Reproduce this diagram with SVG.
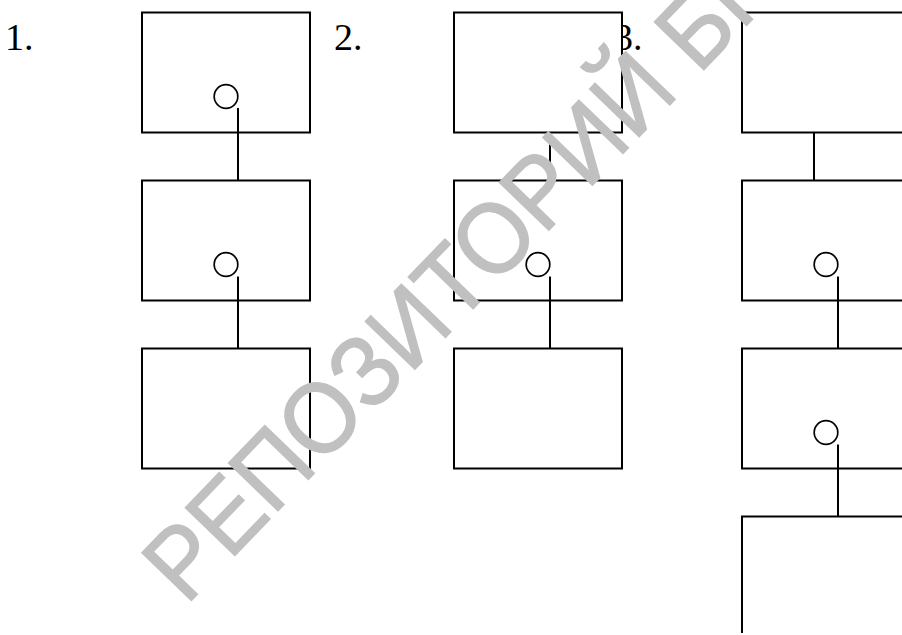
<svg xmlns="http://www.w3.org/2000/svg" width="902" height="635" viewBox="0 0 902 635">
  <style>
    .lbl { font-family: "Liberation Serif", "Times New Roman", serif; font-size: 38px; fill: #000; }
    .box { fill: #fff; stroke: #000; stroke-width: 2; }
    .pin { fill: #fff; stroke: #000; stroke-width: 1.7; }
    .con { stroke: #000; stroke-width: 2; fill: none; }
    .wm { font-family: "Liberation Sans", Arial, sans-serif; font-size: 100px; fill: #c0c0c0; stroke: #c0c0c0; stroke-width: 1.4; stroke-linejoin: miter; }
  </style>
  <rect width="902" height="635" fill="#fff"/>

  <g id="labels">
    <text class="lbl" x="5" y="50">1.</text>
    <text class="lbl" x="334" y="50">2.</text>
    <text class="lbl" x="614" y="50">3.</text>
  </g>

  <!-- Column 1 -->
  <g id="c1b1"><rect class="box" x="142" y="12.5" width="168" height="120"/><circle class="pin" cx="226" cy="96.5" r="11.8"/></g>
  <g id="c1b2"><rect class="box" x="142" y="180.5" width="168" height="120"/><circle class="pin" cx="226" cy="264.5" r="11.8"/></g>
  <g id="c1b3"><rect class="box" x="142" y="348.5" width="168" height="120"/></g>

  <!-- Column 2 -->
  <g id="c2b1"><rect class="box" x="454" y="12.5" width="168" height="120"/></g>
  <g id="c2b2"><rect class="box" x="454" y="180.5" width="168" height="120"/><circle class="pin" cx="538" cy="264.5" r="11.8"/></g>
  <g id="c2b3"><rect class="box" x="454" y="348.5" width="168" height="120"/></g>

  <!-- Column 3 -->
  <g id="c3b1"><rect class="box" x="742" y="12.5" width="200" height="120"/></g>
  <g id="c3b2"><rect class="box" x="742" y="180.5" width="200" height="120"/><circle class="pin" cx="826" cy="264.5" r="11.8"/></g>
  <g id="c3b3"><rect class="box" x="742" y="348.5" width="200" height="120"/><circle class="pin" cx="826" cy="432.5" r="11.8"/></g>
  <g id="c3b4"><path class="box" d="M742,633 V516.5 H910"/></g>

  <g id="connectors">
    <path class="con" d="M238,108 V180.5"/>
    <path class="con" d="M238,276.5 V348.5"/>
    <path class="con" d="M550,132.5 V180.5"/>
    <path class="con" d="M550,276.5 V348.5"/>
    <path class="con" d="M814,132.5 V180.5"/>
    <path class="con" d="M838,276.5 V348.5"/>
    <path class="con" d="M838,444.5 V516.5"/>
  </g>

  <g id="watermark">
    <text class="wm" transform="translate(186,606) rotate(-46)" textLength="850" lengthAdjust="spacingAndGlyphs">РЕПОЗИТОРИЙ БГ</text>
  </g>
</svg>
